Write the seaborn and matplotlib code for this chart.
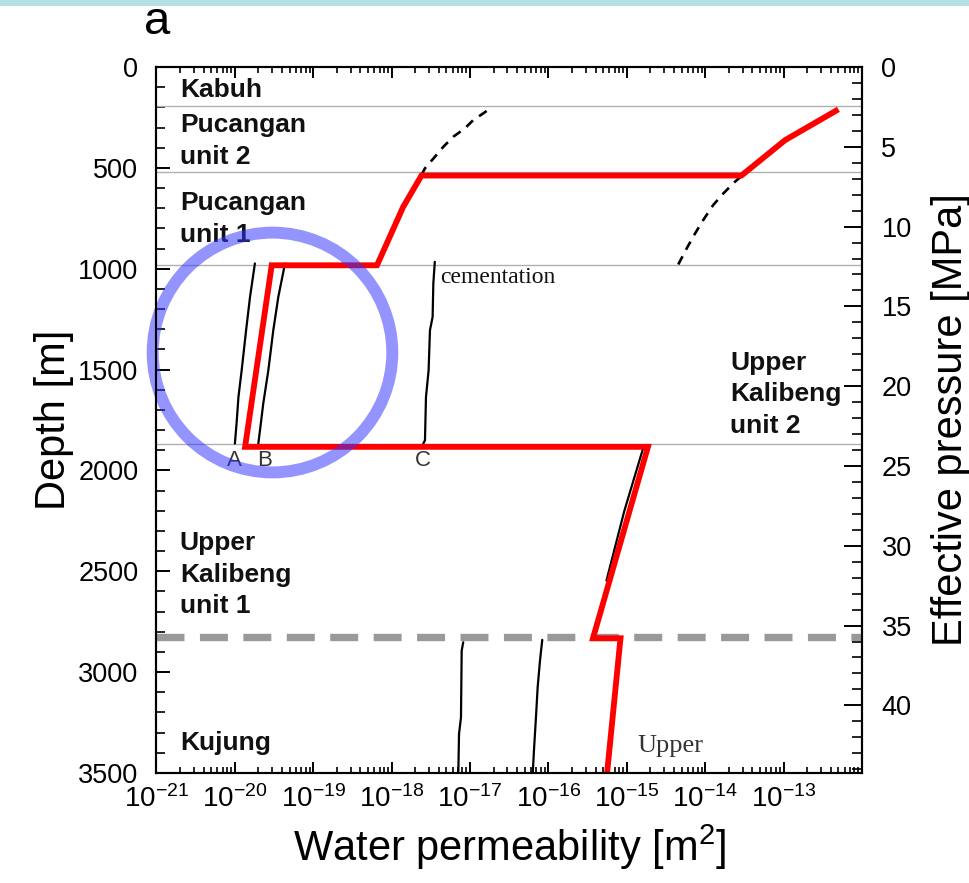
import numpy as np
import matplotlib
matplotlib.use("Agg")
import matplotlib.pyplot as plt
import matplotlib.ticker as mticker
from matplotlib.patches import Circle, Rectangle
import seaborn as sns

# ---- data -------------------------------------------------------------
# adopted permeability model (red)
model_k = [5.0e-13, 1.05e-13, 2.9e-14, 2.4e-18, 1.4e-18, 6.5e-19,
           2.95e-20, 1.35e-20, 1.86e-15, 3.7e-16, 8.3e-16, 5.6e-16]
model_depth = [210, 362, 538, 538, 694, 983, 983, 1883, 1883, 2832, 2832, 3500]

# compaction trends (black dashed)
trend_upper_k = [2.4e-18, 2.65e-18, 3.56e-18, 4.55e-18, 6.1e-18, 8.6e-18, 1.10e-17, 1.47e-17, 1.89e-17]
trend_upper_depth = [536, 503, 445, 396, 346, 304, 263, 230, 200]
trend_right_k = [4.53e-15, 5.79e-15, 7.40e-15, 9.42e-15, 1.26e-14, 1.70e-14, 2.39e-14, 2.91e-14]
trend_right_depth = [979, 900, 826, 759, 685, 627, 569, 541]

# cementation curves A, B, C (Upper Kalibeng unit 2)
curve_a_k = [1.80e-20, 1.56e-20, 1.39e-20, 1.22e-20, 1.11e-20, 1.05e-20, 1.00e-20]
curve_a_depth = [974, 1140, 1305, 1504, 1636, 1768, 1867]
curve_b_k = [4.36e-20, 3.58e-20, 3.09e-20, 2.67e-20, 2.30e-20, 2.09e-20, 1.99e-20]
curve_b_depth = [974, 1140, 1305, 1504, 1669, 1801, 1867]
curve_c_k = [3.55e-18, 3.40e-18, 3.33e-18, 3.08e-18, 2.96e-18, 2.74e-18, 2.66e-18, 2.53e-18]
curve_c_depth = [966, 1073, 1239, 1305, 1504, 1636, 1851, 1867]

# Upper Kalibeng unit 1 trend
ukal1_k = [1.60e-15, 9.3e-16, 5.5e-16]
ukal1_depth = [1895, 2200, 2546]

# Kujung curves
kuj1_k = [8.18e-18, 7.82e-18, 7.66e-18, 7.23e-18, 7.08e-18]
kuj1_depth = [2852, 2893, 3224, 3307, 3504]
kuj2_k = [8.34e-17, 7.80e-17, 7.28e-17, 6.93e-17, 6.53e-17, 6.30e-17]
kuj2_depth = [2840, 2943, 3076, 3224, 3390, 3504]

# formation boundaries [m]
boundaries = [195, 520, 980, 1870]
kujung_top = 2825

# formation names: (label, x in axes fraction, centre depth)
formations = [
    ("Kabuh", 0.033, 112),
    ("Pucangan\nunit 2", 0.033, 367),
    ("Pucangan\nunit 1", 0.033, 754),
    ("Upper\nKalibeng\nunit 2", 0.813, 1623),
    ("Upper\nKalibeng\nunit 1", 0.033, 2516),
    ("Kujung", 0.033, 3350),
]

x_exponents = list(range(-21, -12))
depth_max = 3500
mpa_per_m = 0.01264

# ---- style ------------------------------------------------------------
sns.set_theme(style="ticks")
plt.rcParams["font.family"] = ["Liberation Sans", "DejaVu Sans"]
plt.rcParams["mathtext.fontset"] = "custom"
plt.rcParams["mathtext.rm"] = "Liberation Sans"
plt.rcParams["mathtext.it"] = "Liberation Sans:italic"
plt.rcParams["mathtext.bf"] = "Liberation Sans:bold"
for key in ["text.color", "axes.labelcolor", "xtick.color", "ytick.color",
            "axes.edgecolor"]:
    plt.rcParams[key] = "black"

fig = plt.figure(figsize=(9.7, 8.83), dpi=100)
fig.patch.set_facecolor("white")
fig.add_artist(Rectangle((0, 1 - 6 / 883), 1, 6 / 883, transform=fig.transFigure,
                         facecolor="#b4e0e6", edgecolor="none"))

ax = fig.add_axes([0.16134, 0.12457, 0.72732, 0.79955])
ax.set_xscale("log")
ax.set_xlim(1e-21, 1e-12)
ax.set_ylim(depth_max, 0)

# formation boundaries
for d in boundaries:
    ax.axhline(d, color="#b0b0b0", lw=1.0, zorder=1)
ax.axhline(kujung_top, color="#999999", lw=5.3, dashes=(3.8, 2.1), zorder=1)

thin = dict(color="black", lw=1.6, estimator=None, sort=False, legend=False)
for k, d in [(curve_a_k, curve_a_depth), (curve_b_k, curve_b_depth),
             (curve_c_k, curve_c_depth), (ukal1_k, ukal1_depth),
             (kuj1_k, kuj1_depth), (kuj2_k, kuj2_depth)]:
    sns.lineplot(x=k, y=d, ax=ax, zorder=3, **thin)

dash = dict(color="black", lw=1.9, estimator=None, sort=False, legend=False,
            linestyle=(0, (3.5, 2.8)))
sns.lineplot(x=trend_upper_k, y=trend_upper_depth, ax=ax, zorder=3, **dash)
sns.lineplot(x=trend_right_k, y=trend_right_depth, ax=ax, zorder=3, **dash)

sns.lineplot(x=model_k, y=model_depth, ax=ax, color="#ff0000", lw=4.2,
             estimator=None, sort=False, legend=False, zorder=4,
             solid_joinstyle="miter", solid_capstyle="butt")

# annotations
ytr = ax.get_yaxis_transform()
for name, xf, d in formations:
    ax.text(xf, d, name, transform=ytr, fontsize=19, fontweight="bold",
            ha="left", va="center", linespacing=1.38, color="#111111", zorder=5)

ax.text(4.2e-18, 1042, "cementation", fontsize=17, family="Liberation Serif",
        ha="left", va="center", color="#111111")
ax.text(1.35e-15, 3365, "Upper", fontsize=19, family="Liberation Serif",
        ha="left", va="center", color="#333333")
ax.text(1.0e-20, 1950, "A", fontsize=16, ha="center", va="center", color="#333333")
ax.text(2.4e-20, 1950, "B", fontsize=16, ha="center", va="center", color="#333333")
ax.text(2.5e-18, 1950, "C", fontsize=16, ha="center", va="center", color="#333333")

# highlight ring
ax.add_patch(Circle((0.1644, 0.5956), 0.1698, transform=ax.transAxes, fill=False,
                    lw=8.6, edgecolor=(0.2, 0.2, 1.0, 0.52), clip_on=False, zorder=6))

# axes, ticks
ax.xaxis.set_major_locator(mticker.FixedLocator([10.0 ** e for e in x_exponents]))
ax.xaxis.set_major_formatter(mticker.FixedFormatter(
    ["$10^{%d}$" % e for e in x_exponents]))
ax.xaxis.set_minor_locator(mticker.LogLocator(base=10, subs=np.arange(2, 10), numticks=100))
ax.xaxis.set_minor_formatter(mticker.NullFormatter())
ax.yaxis.set_major_locator(mticker.MultipleLocator(500))
ax.yaxis.set_minor_locator(mticker.MultipleLocator(100))

ax.tick_params(axis="x", which="major", direction="in", length=8, width=1.4,
               top=True, bottom=True, labelsize=20, pad=9)
ax.tick_params(axis="x", which="minor", direction="in", length=4.5, width=1.2,
               top=True, bottom=True)
ax.tick_params(axis="y", which="major", direction="in", length=10, width=1.4,
               left=True, right=False, labelsize=19.5, pad=13)
ax.tick_params(axis="y", which="minor", direction="in", length=6.5, width=1.2,
               left=True, right=False)
for s in ax.spines.values():
    s.set_linewidth(1.5)

ax.set_xlabel("Water permeability [m$^2$]", fontsize=30, labelpad=7)
ax.set_ylabel("Depth [m]", fontsize=30, labelpad=3)

ax2 = ax.twinx()
ax2.set_ylim(depth_max * mpa_per_m, 0)
ax2.yaxis.set_major_locator(mticker.MultipleLocator(5))
ax2.yaxis.set_minor_locator(mticker.MultipleLocator(1))
ax2.tick_params(axis="y", which="major", direction="in", length=12.7, width=1.4,
                labelsize=19.5, pad=14)
ax2.tick_params(axis="y", which="minor", direction="in", length=7.2, width=1.2)
for s in ax2.spines.values():
    s.set_linewidth(1.5)
ax2.set_ylabel("Effective pressure [MPa]", fontsize=30, labelpad=14)

fig.text(157 / 970, 1 - 22 / 883, "a", fontsize=34, ha="center", va="center")

fig.savefig("out.png", dpi=100)
